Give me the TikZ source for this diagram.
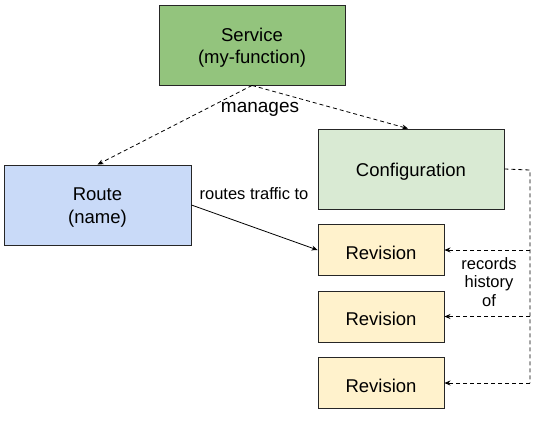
\documentclass[tikz,border=0pt]{standalone}
\usepackage{fontspec}
\setmainfont{Liberation Sans}
\usetikzlibrary{arrows.meta}
\definecolor{svcfill}{HTML}{93C47D}
\definecolor{cfgfill}{HTML}{D9EAD3}
\definecolor{routefill}{HTML}{C9DAF8}
\definecolor{revfill}{HTML}{FFF2CC}
\newcommand{\lowertxt}[1]{\raisebox{-2.5pt}[\height][\depth]{#1}}
\tikzset{
  box/.style={draw=black!85, line width=0.9pt, align=center, inner sep=0pt,
    font=\fontsize{18.5}{22.5}\selectfont},
  revbox/.style={box, fill=revfill, minimum width=126pt, minimum height=51pt},
  lbl/.style={font=\fontsize{16.5}{18.5}\selectfont, align=center, inner sep=0pt},
  dasharrow/.style={draw=black, line width=0.8pt, dash pattern=on 4pt off 3pt,
    -{Stealth[length=6pt,width=5pt]}},
  solidarrow/.style={draw=black, line width=0.8pt, -{Stealth[length=6pt,width=5pt]}},
  dashline/.style={draw=black, line width=0.8pt, dash pattern=on 4pt off 3pt}
}
\begin{document}
\begin{tikzpicture}[x=1pt,y=1pt]
\useasboundingbox (0,0) rectangle (540,-424);
\fill[white] (0,0) rectangle (540,-424);
\node[box, fill=svcfill, minimum width=186pt, minimum height=80pt] (svc) at (252,-45) {\lowertxt{Service}\\\lowertxt{(my-function)}};
\node[box, fill=cfgfill, minimum width=186pt, minimum height=80pt] (cfg) at (411,-169) {\lowertxt{Configuration}};
\node[box, fill=routefill, minimum width=187pt, minimum height=80pt] (route) at (97.5,-205) {\lowertxt{Route}\\\lowertxt{(name)}};
\node[revbox] (rev1) at (381,-250) {\lowertxt{Revision}};
\node[revbox] (rev2) at (381,-316.5) {\lowertxt{Revision}};
\node[revbox] (rev3) at (381,-383) {\lowertxt{Revision}};
\node[lbl] (mg) at (260,-109) {\fontsize{19}{20}\selectfont manages};
\node[lbl] (rt) at (254,-194) {routes traffic to};
\node[lbl] (rh) at (489,-282) {records\\history\\of};
\coordinate (c1) at (530,-170);
\coordinate (c3) at (530,-383);
\draw[dasharrow] (svc.south) -- (route.north);
\draw[dasharrow] (svc.south) -- ([xshift=-3pt]cfg.north);
\draw[solidarrow] (route.east) -- (rev1.west);
\draw[dashline] (cfg.east) -- (c1) -- (c3);
\draw[dasharrow] (c1 |- rev1.east) -- (rev1.east);
\draw[dasharrow] (c1 |- rev2.east) -- (rev2.east);
\draw[dasharrow] (c3) -- (rev3.east);
\end{tikzpicture}
\end{document}
